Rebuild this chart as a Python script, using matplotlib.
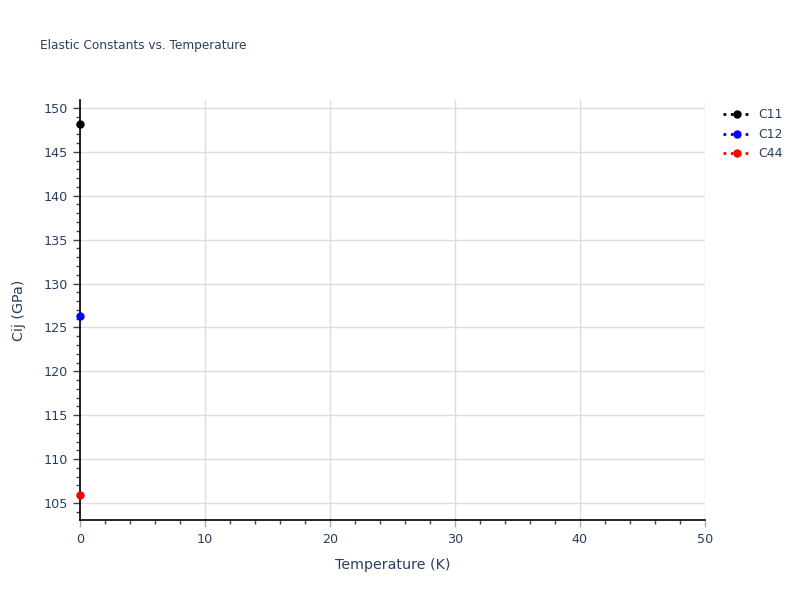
import matplotlib.pyplot as plt
from matplotlib.ticker import MultipleLocator
from matplotlib.lines import Line2D

# data
temperature = [0]
c11 = [148.15]
c12 = [126.3]
c44 = [105.95]
series_names = ["C11", "C12", "C44"]
series_colors = ["black", "blue", "red"]

txt = "#2a3f5f"

fig = plt.figure(figsize=(8, 6), dpi=100)
ax = fig.add_axes([0.1, 0.1333, 0.78125, 0.7])

for vals, name, col in zip([c11, c12, c44], series_names, series_colors):
    ax.plot(temperature, vals, linestyle=":", color=col, marker="o",
            markersize=5, linewidth=2, label=name, clip_on=False, zorder=5)

ax.set_xlim(0, 50)
ax.set_ylim(103.06, 150.9)

ax.xaxis.set_major_locator(MultipleLocator(10))
ax.xaxis.set_minor_locator(MultipleLocator(2))
ax.yaxis.set_major_locator(MultipleLocator(5))
ax.yaxis.set_minor_locator(MultipleLocator(1))

ax.grid(True, which="major", color="#dddddd", linewidth=1)
ax.set_axisbelow(True)

for s in ["top", "right"]:
    ax.spines[s].set_visible(False)
for s in ["left", "bottom"]:
    ax.spines[s].set_color("black")
    ax.spines[s].set_linewidth(1.2)

ax.tick_params(which="major", direction="out", length=5, width=1,
               color="#aaaaaa", labelcolor=txt, labelsize=9.2, pad=4)
ax.tick_params(which="minor", direction="out", length=3, width=1, color="#444444")
ax.tick_params(axis="y", which="major", color="#444444")

ax.set_xlabel("Temperature (K)", color=txt, fontsize=10.3, labelpad=9)
ax.set_ylabel("Cij (GPa)", color=txt, fontsize=10.3, labelpad=12)

fig.text(0.05, 0.925, "Elastic Constants vs. Temperature", color=txt,
         fontsize=8.7, va="center", ha="left")

handles = [Line2D([0], [0], linestyle=":", color=c, marker="o", markersize=5,
                  linewidth=2) for c in series_colors]
leg = fig.legend(handles, series_names, loc="upper left",
                 bbox_to_anchor=(0.89, 0.838), frameon=False, fontsize=9,
                 handlelength=2.2, labelspacing=0.52, handletextpad=0.6)
for t in leg.get_texts():
    t.set_color(txt)

fig.savefig("out.png", dpi=100)
